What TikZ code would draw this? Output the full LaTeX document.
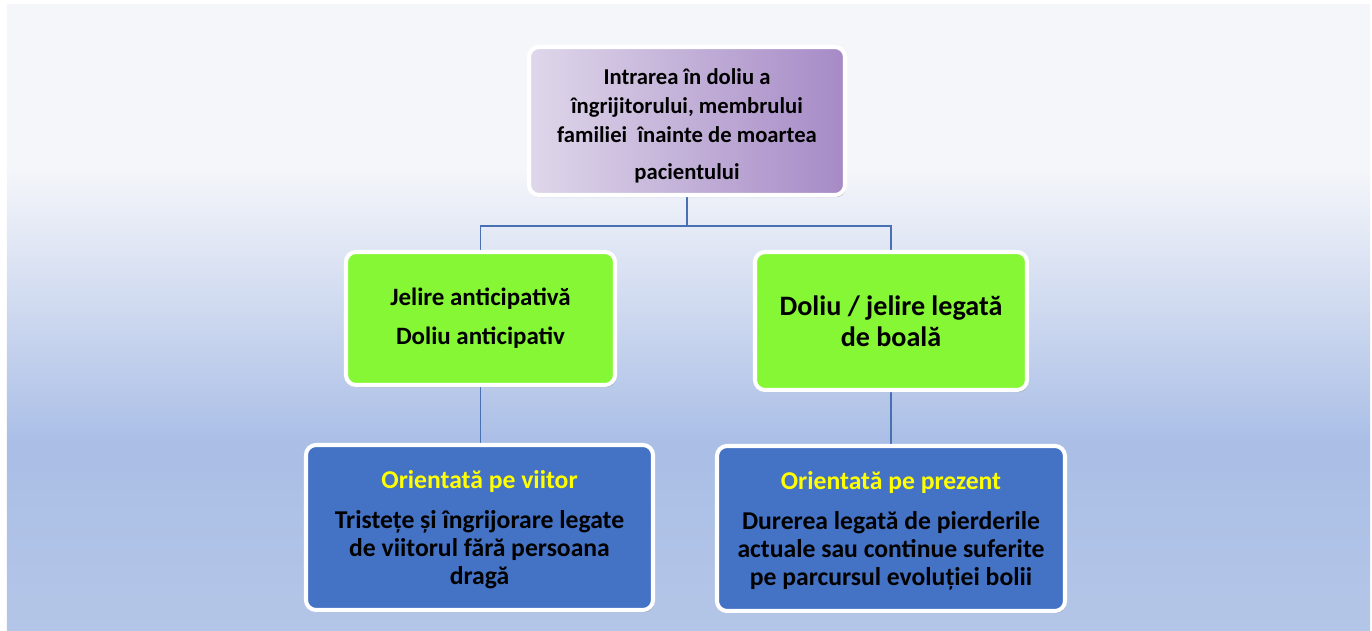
\documentclass[tikz,border=0pt]{standalone}
\usepackage{fontspec}
\setmainfont{Carlito}
\usetikzlibrary{positioning, shadows, backgrounds}

\definecolor{bgtop}{HTML}{F5F6FA}
\definecolor{bgmid}{HTML}{AABEE6}
\definecolor{bgbot}{HTML}{B4C6E7}
\definecolor{rootleft}{HTML}{DFD7EA}
\definecolor{rootright}{HTML}{A68AC6}
\definecolor{leafgreen}{HTML}{86F735}
\definecolor{leafblue}{HTML}{4472C4}
\definecolor{headyellow}{HTML}{FFFF00}
\definecolor{linkblue}{HTML}{4A70B4}

\pgfdeclareverticalshading{pagebg}{100bp}{color(0bp)=(bgbot); color(25bp)=(bgbot); color(40bp)=(bgmid); color(62bp)=(bgtop); color(75bp)=(bgtop); color(100bp)=(bgtop)}

\begin{document}
\begin{tikzpicture}[
    box/.style={draw=white, line width=2.3pt, rounded corners=0.2cm, align=center, inner sep=0pt,
        drop shadow={shadow xshift=0.6pt, shadow yshift=-1.2pt, opacity=0.35, fill=black}},
    rootbox/.style={box, left color=rootleft, right color=rootright},
    greenbox/.style={box, fill=leafgreen},
    bluebox/.style={box, fill=leafblue},
    link/.style={draw=linkblue, line width=0.8pt}
]
    \useasboundingbox (0,0) rectangle (27.44,-12.62);

    % Top box
    \node[rootbox, minimum width=6.32cm, minimum height=2.96cm,
          font=\bfseries\fontsize{12.9}{16.4}\selectfont] (intrare) at (13.74,-2.42)
        {\rule{0pt}{14.5pt}Intrarea în doliu a\\îngrijitorului, membrului\\familiei~ înainte de moartea\\[4.5pt]pacientului};

    % Middle row
    \node[greenbox, minimum width=5.38cm, minimum height=2.66cm,
          font=\bfseries\fontsize{14.2}{22}\selectfont] (antic) at (9.61,-6.37)
        {Jelire anticipativă\\Doliu anticipativ};
    \node[greenbox, minimum width=5.44cm, minimum height=2.76cm,
          font=\bfseries\fontsize{16}{17.6}\selectfont] (boala) at (17.82,-6.42)
        {Doliu / jelire legată\\de boală};

    % Bottom row
    \node[bluebox, minimum width=6.94cm, minimum height=3.30cm,
          font=\bfseries\fontsize{14.6}{16}\selectfont] (viitor) at (9.59,-10.55)
        {\rule{0pt}{13pt}\textcolor{headyellow}{Orientată pe viitor}\\[6.6pt]Tristețe și îngrijorare legate\\de viitorul fără persoana\\dragă};
    \node[bluebox, minimum width=6.96cm, minimum height=3.30cm,
          font=\bfseries\fontsize{14.6}{16}\selectfont] (prezent) at (17.82,-10.57)
        {\rule{0pt}{13pt}\textcolor{headyellow}{Orientată pe prezent}\\[6.6pt]Durerea legată de pierderile\\actuale sau continue suferite\\pe parcursul evoluției bolii};

    \begin{scope}[on background layer]
        % Backdrop
        \fill[shading=pagebg] (0.14,-0.10) rectangle (27.40,-12.62);
        % Connectors
        \draw[link] (intrare.south) -- ++(0,-0.58) -| (antic.north);
        \draw[link] (intrare.south) -- ++(0,-0.58) -| (boala.north);
        \draw[link] (antic.south) -- (antic.south |- viitor.north);
        \draw[link] (boala.south) -- (boala.south |- prezent.north);
    \end{scope}
\end{tikzpicture}
\end{document}
